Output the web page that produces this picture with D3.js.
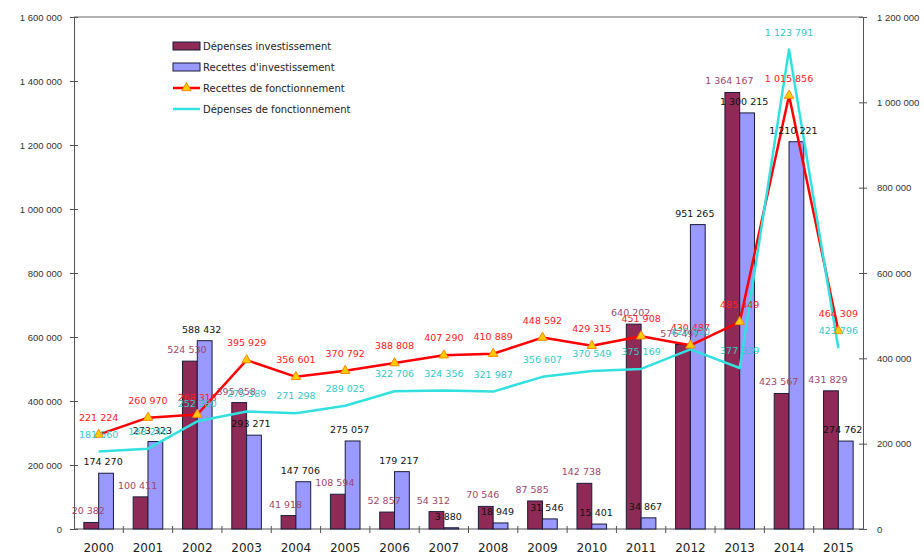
<!DOCTYPE html>
<html lang="fr">
<head>
<meta charset="utf-8">
<title>Investissement et fonctionnement 2000-2015</title>
<script src="https://cdn.jsdelivr.net/npm/d3@7.9.0/dist/d3.min.js"></script>
<style>
  html, body { margin: 0; padding: 0; background: #fff; }
  svg { display: block; font-family: 'DejaVu Sans', sans-serif; }
  .tick-label { font-size: 9.5px; fill: #333; }
  .year-label { font-size: 12px; fill: #222; }
  .legend text { font-size: 10px; fill: #222; }
  .val { font-size: 9.5px; }
</style>
</head>
<body>
<div id="chart"></div>
<script>
/* ---------------------------------------------------------
   DATA
--------------------------------------------------------- */
const years = ['2000', '2001', '2002', '2003', '2004', '2005', '2006', '2007',
  '2008', '2009', '2010', '2011', '2012', '2013', '2014', '2015'];

// bars, left axis
const depensesInvest = [20382, 100411, 524530, 395058, 41918, 108594, 52857, 54312,
  70546, 87585, 142738, 640202, 576497, 1364167, 423567, 431829];
const recettesInvest = [174270, 273323, 588432, 293271, 147706, 275057, 179217, 3880,
  18949, 31546, 15401, 34867, 951265, 1300215, 1210221, 274762];

// lines, right axis
const recettesFonct = [221224, 260970, 268318, 395929, 356601, 370792, 388808, 407290,
  410889, 448592, 429315, 451908, 430487, 485449, 1015856, 464309];
const depensesFonct = [181560, 188246, 252380, 275589, 271298, 289025, 322706, 324356,
  321987, 356607, 370549, 375169, 420820, 377339, 1123791, 423796];

const leftTicks = [0, 200000, 400000, 600000, 800000, 1000000, 1200000, 1400000, 1600000];
const rightTicks = [0, 200000, 400000, 600000, 800000, 1000000, 1200000];

const legendNames = ['Dépenses investissement', "Recettes d'investissement",
  'Recettes de fonctionnement', 'Dépenses de fonctionnement'];

/* ---------------------------------------------------------
   SETUP
--------------------------------------------------------- */
const width = 924;
const height = 557;
const plot = { left: 74, right: 863, top: 17, bottom: 529 };

const colors = {
  depInv: '#8e2a55',
  recInv: '#9999ff',
  recF: '#ff0000',
  depF: '#33e0e0',
};

const fmt = d3.formatLocale({ decimal: ',', thousands: ' ', grouping: [3], currency: ['', ' €'] })
  .format(',d');

const svg = d3.select('#chart').append('svg')
  .attr('width', width)
  .attr('height', height);

const x = d3.scaleBand()
  .domain(years)
  .range([plot.left, plot.right])
  .paddingInner(0.4)
  .paddingOuter(0.2);

const xSub = d3.scaleBand()
  .domain(['dep', 'rec'])
  .range([0, x.bandwidth()]);

const yLeft = d3.scaleLinear().domain([0, 1600000]).range([plot.bottom, plot.top]);
const yRight = d3.scaleLinear().domain([0, 1200000]).range([plot.bottom, plot.top]);

const cx = (yr) => x(yr) + x.bandwidth() / 2;

/* ---------------------------------------------------------
   AXES
--------------------------------------------------------- */
const leftAxis = d3.axisLeft(yLeft).tickValues(leftTicks).tickFormat(fmt)
  .tickSizeInner(4).tickSizeOuter(0).tickPadding(8);
const rightAxis = d3.axisRight(yRight).tickValues(rightTicks).tickFormat(fmt)
  .tickSizeInner(4).tickSizeOuter(0).tickPadding(10);

const gl = svg.append('g')
  .attr('transform', `translate(${plot.left},0)`)
  .call(leftAxis);
const gr = svg.append('g')
  .attr('transform', `translate(${plot.right},0)`)
  .call(rightAxis);

[gl, gr].forEach((g) => {
  g.select('.domain').attr('stroke', '#555');
  g.selectAll('.tick line').attr('stroke', '#555').attr('x1', (d, i, n) => -d3.select(n[i]).attr('x2'));
  g.selectAll('.tick text').attr('class', 'tick-label').attr('font-family', null).attr('font-size', null);
});

// top border of plot area
svg.append('line')
  .attr('x1', plot.left).attr('x2', plot.right)
  .attr('y1', plot.top).attr('y2', plot.top)
  .attr('stroke', '#666');

// x axis with ticks between categories
const gx = svg.append('g').attr('transform', `translate(0,${plot.bottom})`);
gx.append('line')
  .attr('x1', plot.left).attr('x2', plot.right)
  .attr('stroke', '#555');
gx.selectAll('.sep')
  .data(years.slice(1))
  .join('line')
  .attr('class', 'sep')
  .attr('x1', (d) => x(d) - x.step() * x.paddingInner() / 2)
  .attr('x2', (d) => x(d) - x.step() * x.paddingInner() / 2)
  .attr('y1', -3).attr('y2', 4)
  .attr('stroke', '#555');
gx.selectAll('.year-label')
  .data(years)
  .join('text')
  .attr('class', 'year-label')
  .attr('x', (d) => cx(d))
  .attr('y', 23)
  .attr('text-anchor', 'middle')
  .text((d) => d);

/* ---------------------------------------------------------
   BARS
--------------------------------------------------------- */
const barSeries = [
  { key: 'dep', values: depensesInvest, fill: colors.depInv, label: '#a04670' },
  { key: 'rec', values: recettesInvest, fill: colors.recInv, label: '#111' },
];

barSeries.forEach((s) => {
  svg.append('g')
    .selectAll('rect')
    .data(years)
    .join('rect')
    .attr('x', (d) => x(d) + xSub(s.key))
    .attr('width', xSub.bandwidth())
    .attr('y', (d, i) => yLeft(s.values[i]))
    .attr('height', (d, i) => plot.bottom - yLeft(s.values[i]))
    .attr('fill', s.fill)
    .attr('stroke', '#1b1b3a')
    .attr('stroke-width', 1);
});

/* ---------------------------------------------------------
   LINES
--------------------------------------------------------- */
const lineSeries = [
  { values: recettesFonct, color: colors.recF, label: '#ff2020', marker: true },
  { values: depensesFonct, color: colors.depF, label: '#33c8c8', marker: false },
];

const line = (vals) => d3.line()
  .x((d) => cx(d))
  .y((d, i) => yRight(vals[i]))(years);

lineSeries.forEach((s) => {
  svg.append('path')
    .attr('d', line(s.values))
    .attr('fill', 'none')
    .attr('stroke', s.color)
    .attr('stroke-width', 2.5)
    .attr('stroke-linejoin', 'round');
});

const tri = d3.symbol().type(d3.symbolTriangle).size(38);
svg.append('g')
  .selectAll('path')
  .data(years)
  .join('path')
  .attr('d', tri)
  .attr('transform', (d, i) => `translate(${cx(d)},${yRight(recettesFonct[i])})`)
  .attr('fill', '#ffcc00')
  .attr('stroke', '#ff8800')
  .attr('stroke-width', 1);

/* ---------------------------------------------------------
   VALUE LABELS
--------------------------------------------------------- */
const labels = svg.append('g');

barSeries.forEach((s) => {
  labels.append('g')
    .selectAll('text')
    .data(years)
    .join('text')
    .attr('class', 'val')
    .attr('x', (d) => x(d) + xSub(s.key) + xSub.bandwidth() / 2 - 3)
    .attr('y', (d, i) => yLeft(s.values[i]) - 8)
    .attr('text-anchor', 'middle')
    .attr('fill', s.label)
    .text((d, i) => fmt(s.values[i]));
});

lineSeries.forEach((s) => {
  labels.append('g')
    .selectAll('text')
    .data(years)
    .join('text')
    .attr('class', 'val')
    .attr('x', (d) => cx(d))
    .attr('y', (d, i) => yRight(s.values[i]) - 14)
    .attr('text-anchor', 'middle')
    .attr('fill', s.label)
    .text((d, i) => fmt(s.values[i]));
});

/* ---------------------------------------------------------
   LEGEND
--------------------------------------------------------- */
const legend = svg.append('g')
  .attr('class', 'legend')
  .attr('transform', 'translate(173,46)');

const legendItems = legend.selectAll('g')
  .data(legendNames)
  .join('g')
  .attr('transform', (d, i) => `translate(0,${i * 21})`);

legendItems.filter((d, i) => i < 2)
  .append('rect')
  .attr('x', 0).attr('y', -4)
  .attr('width', 27).attr('height', 8)
  .attr('fill', (d, i) => [colors.depInv, colors.recInv][i])
  .attr('stroke', '#1b1b3a');

legendItems.filter((d, i) => i >= 2)
  .append('line')
  .attr('x1', 0).attr('x2', 27)
  .attr('stroke', (d, i) => [colors.recF, colors.depF][i])
  .attr('stroke-width', 2.5);

legendItems.filter((d, i) => i === 2)
  .append('path')
  .attr('d', tri)
  .attr('transform', 'translate(13.5,0)')
  .attr('fill', '#ffcc00')
  .attr('stroke', '#ff8800');

legendItems.append('text')
  .attr('x', 30)
  .attr('y', 3.5)
  .text((d) => d);
</script>
</body>
</html>
